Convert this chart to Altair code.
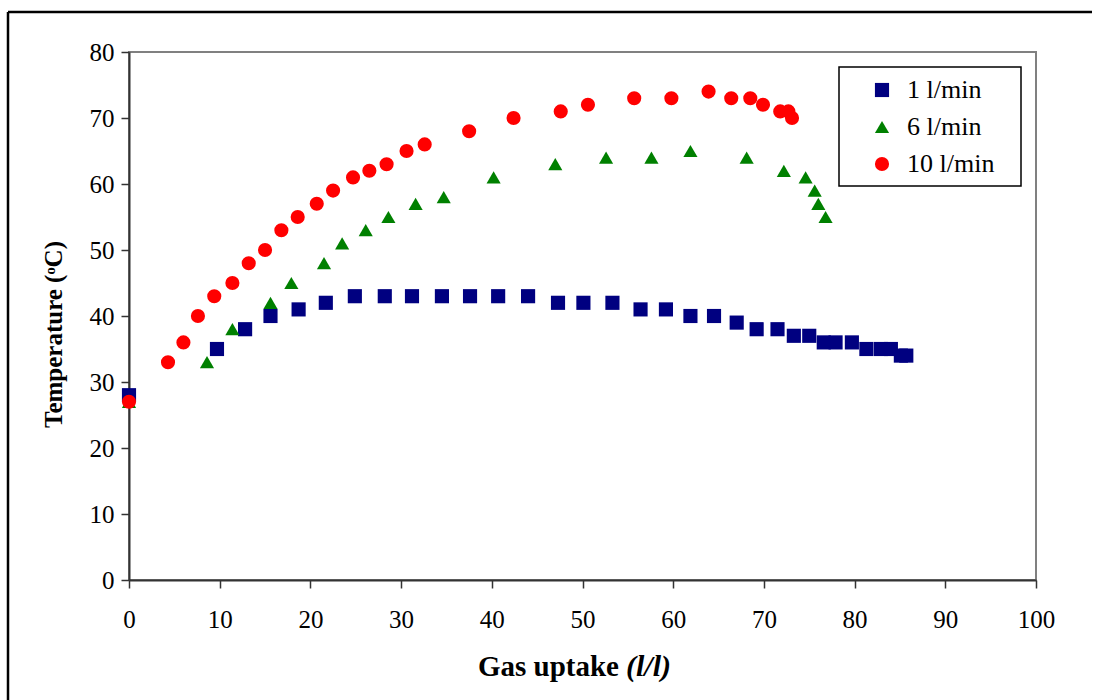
import altair as alt
import pandas as pd

series_names = ["1 l/min", "6 l/min", "10 l/min"]

s1_x = [0, 9.7, 12.8, 15.6, 18.7, 21.7, 24.9, 28.2, 31.2, 34.5, 37.6, 40.7, 44.0, 47.3, 50.1, 53.3,
        56.4, 59.2, 61.9, 64.5, 67.0, 69.2, 71.5, 73.3, 75.0, 76.6, 77.9, 79.7, 81.3, 82.9, 84.0, 85.1, 85.7]
s1_y = [28, 35, 38, 40, 41, 42, 43, 43, 43, 43, 43, 43, 43, 42, 42, 42, 41, 41, 40, 40, 39, 38, 38,
        37, 37, 36, 36, 36, 35, 35, 35, 34, 34]

s6_x = [0, 8.6, 11.4, 15.6, 17.9, 21.5, 23.5, 26.1, 28.6, 31.6, 34.7, 40.2, 47.0, 52.6, 57.6, 61.9,
        68.1, 72.2, 74.6, 75.6, 76.0, 76.8]
s6_y = [27, 33, 38, 42, 45, 48, 51, 53, 55, 57, 58, 61, 63, 64, 64, 65, 64, 62, 61, 59, 57, 55]

s10_x = [0, 4.3, 6.0, 7.6, 9.4, 11.4, 13.2, 15.0, 16.8, 18.6, 20.7, 22.5, 24.7, 26.5, 28.4, 30.6, 32.6,
         37.5, 42.4, 47.6, 50.6, 55.7, 59.8, 63.9, 66.4, 68.5, 69.9, 71.8, 72.7, 73.1]
s10_y = [27, 33, 36, 40, 43, 45, 48, 50, 53, 55, 57, 59, 61, 62, 63, 65, 66, 68, 70, 71, 72, 73, 73,
         74, 73, 73, 72, 71, 71, 70]

x_ticks = list(range(0, 101, 10))
y_ticks = list(range(0, 81, 10))

rows = []
for name, xs, ys in [(series_names[0], s1_x, s1_y), (series_names[1], s6_x, s6_y), (series_names[2], s10_x, s10_y)]:
    for i, (xv, yv) in enumerate(zip(xs, ys)):
        rows.append({"series": name, "uptake": xv, "temp": yv, "order": len(rows)})
df = pd.DataFrame(rows)

FONT = "Liberation Serif"
W, H = 907, 528
PAD_L, PAD_T = 129, 52
TOTAL_W, TOTAL_H = 1093, 700

points = alt.Chart(df).mark_point(filled=True, opacity=1).encode(
    x=alt.X("uptake:Q", scale=alt.Scale(domain=[0, 100], nice=False),
            axis=alt.Axis(values=x_ticks, title=None, labelPadding=19, labelFlush=False)),
    y=alt.Y("temp:Q", scale=alt.Scale(domain=[0, 80], nice=False),
            axis=alt.Axis(values=y_ticks, title="Temperature (ᵒC)", titleFont=FONT, titleFontSize=25,
                          titleFontWeight="bold", titleColor="black", titleAngle=270,
                          titleX=-76, titleY=H / 2 + 18, titleAlign="center", titleBaseline="middle",
                          labelPadding=7, labelFlush=False)),
    color=alt.Color("series:N", scale=alt.Scale(domain=series_names, range=["#000080", "#008000", "#FF0000"]),
                    legend=alt.Legend(title=None, orient="none", legendX=710, legendY=15,
                                      labelFont=FONT, labelFontSize=26, labelColor="black",
                                      symbolSize=200, symbolOffset=20, labelOffset=12, padding=10,
                                      rowPadding=11, symbolStrokeWidth=0)),
    shape=alt.Shape("series:N", scale=alt.Scale(domain=series_names, range=["square", "triangle-up", "circle"])),
    size=alt.Size("series:N", scale=alt.Scale(domain=series_names, range=[200, 200, 175]), legend=None),
    order=alt.Order("order:Q"),
)

legend_box = alt.Chart(alt.Data(values=[{}])).mark_rect(
    fill="white", stroke="black", strokeWidth=1.5
).encode(x=alt.value(710), x2=alt.value(892), y=alt.value(15), y2=alt.value(134))

title_a = alt.Chart(alt.Data(values=[{}])).mark_text(
    text="Gas uptake", font=FONT, fontSize=29, fontWeight="bold", align="right", baseline="middle", color="black"
).encode(x=alt.value(490), y=alt.value(615))
title_b = alt.Chart(alt.Data(values=[{}])).mark_text(
    text="(l/l)", font=FONT, fontSize=30, fontWeight="bold", fontStyle="italic", align="left",
    baseline="middle", color="black"
).encode(x=alt.value(497), y=alt.value(615))

border_left = alt.Chart(alt.Data(values=[{}])).mark_rule(color="black", strokeWidth=2.5).encode(
    x=alt.value(8 - PAD_L), y=alt.value(12 - PAD_T), y2=alt.value(TOTAL_H - PAD_T))
border_top = alt.Chart(alt.Data(values=[{}])).mark_rule(color="black", strokeWidth=2.5).encode(
    y=alt.value(12 - PAD_T), x=alt.value(8 - PAD_L), x2=alt.value(TOTAL_W - PAD_L - 1))

chart = alt.layer(border_left, border_top, legend_box, points, title_a, title_b).properties(
    width=W, height=H,
    background="white",
    autosize=alt.AutoSizeParams(type="none"),
    padding={"left": PAD_L, "top": PAD_T, "right": TOTAL_W - PAD_L - W, "bottom": TOTAL_H - PAD_T - H},
).configure_view(
    stroke="#808080", strokeWidth=2
).configure_axis(
    labelFont=FONT, labelFontSize=25, labelColor="black", grid=False,
    domainColor="#333333", domainWidth=2, tickColor="#333333", tickWidth=1.5, tickSize=8
)

chart.save("out.html", embed_options={"renderer": "svg", "actions": False})
